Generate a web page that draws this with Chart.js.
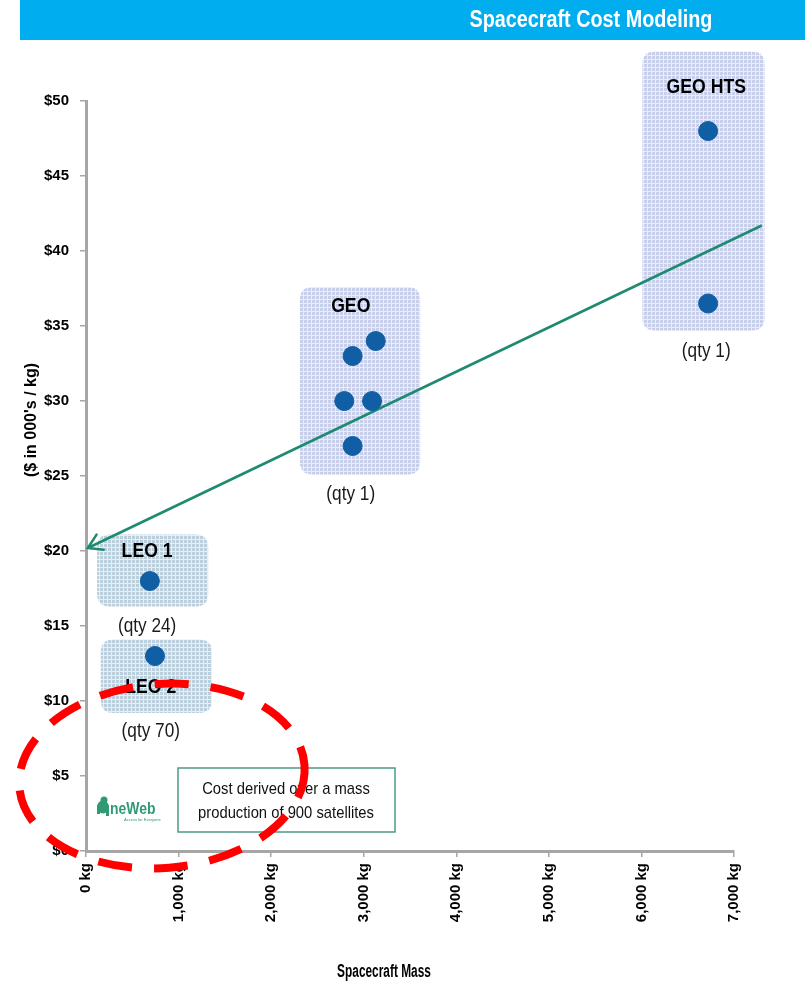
<!DOCTYPE html>
<html>
<head>
<meta charset="utf-8">
<script src="https://cdn.jsdelivr.net/npm/chart.js@4.4.1/dist/chart.umd.min.js"></script>
<style>
  html, body { margin: 0; padding: 0; background: #fff; }
  #wrap { width: 805px; height: 983px; position: relative; }
</style>
</head>
<body>
<div id="wrap"><canvas id="c" width="805" height="983"></canvas></div>
<script>
// Spacecraft cost per kg versus spacecraft mass
const satMass = [6720, 6720, 2880, 3130, 2790, 3090, 2880, 690, 745];
const satCost = [48, 36.5, 33, 34, 30, 30, 27, 18, 13];

// Trend line (arrow points toward the low-mass end)
const trendMass = [20, 7300];
const trendCost = [20.2, 41.7];

// Satellite classes and the shaded regions around them (data units)
const groupNames = ['GEO HTS', 'GEO', 'LEO 1', 'LEO 2'];
const groupQty = ['(qty 1)', '(qty 1)', '(qty 24)', '(qty 70)'];
const groupMassLo = [6010, 2310, 120, 160];
const groupMassHi = [7330, 3610, 1320, 1360];
const groupCostLo = [34.7, 25.1, 16.3, 9.2];
const groupCostHi = [53.3, 37.6, 21.1, 14.1];
const groupNameCost = [50.9, 36.3, 20.0, 10.9];
const groupQtyCost = [33.3, 23.8, 15.0, 8.0];
const groupCenterMass = [6700, 2860, 660, 700];

// Axis ticks
const yTicks = [0, 5, 10, 15, 20, 25, 30, 35, 40, 45, 50];
const xTicks = [0, 1000, 2000, 3000, 4000, 5000, 6000, 7000];

const SANS = '"Liberation Sans", Arial, sans-serif';

function gridPattern(ctx, base, line) {
  const c = document.createElement('canvas');
  c.width = 4; c.height = 4;
  const g = c.getContext('2d');
  g.fillStyle = base; g.fillRect(0, 0, 4, 4);
  g.fillStyle = line; g.fillRect(0, 3, 4, 1); g.fillRect(3, 0, 1, 4);
  return ctx.createPattern(c, 'repeat');
}

function roundRect(ctx, x, y, w, h, r) {
  ctx.beginPath();
  ctx.moveTo(x + r, y);
  ctx.lineTo(x + w - r, y);
  ctx.quadraticCurveTo(x + w, y, x + w, y + r);
  ctx.lineTo(x + w, y + h - r);
  ctx.quadraticCurveTo(x + w, y + h, x + w - r, y + h);
  ctx.lineTo(x + r, y + h);
  ctx.quadraticCurveTo(x, y + h, x, y + h - r);
  ctx.lineTo(x, y + r);
  ctx.quadraticCurveTo(x, y, x + r, y);
  ctx.closePath();
}

// narrow lettering: draw the text squeezed horizontally around its anchor
function narrowText(ctx, text, x, y, font, sx, align) {
  ctx.save();
  ctx.translate(x, y);
  ctx.scale(sx, 1);
  ctx.font = font;
  ctx.textAlign = align || 'center';
  ctx.textBaseline = 'middle';
  ctx.fillText(text, 0, 0);
  ctx.restore();
}

const decor = {
  id: 'decor',
  beforeDraw(chart) {
    const ctx = chart.ctx;
    const xs = chart.scales.x, ys = chart.scales.y;
    ctx.save();
    ctx.fillStyle = '#ffffff';
    ctx.fillRect(0, 0, chart.width, chart.height);

    // header band
    ctx.fillStyle = '#00aeef';
    ctx.fillRect(20, 0, 785, 40);
    ctx.fillStyle = '#ffffff';
    narrowText(ctx, 'Spacecraft Cost Modeling', 591, 21, 'bold 23px ' + SANS, 0.86);

    // shaded class regions
    const geoFill = gridPattern(ctx, '#c7cfeb', '#e9edf9');
    const leoFill = gridPattern(ctx, '#bccfdd', '#e8eff4');
    for (let i = 0; i < groupNames.length; i++) {
      const x1 = xs.getPixelForValue(groupMassLo[i]);
      const x2 = xs.getPixelForValue(groupMassHi[i]);
      const y1 = ys.getPixelForValue(groupCostHi[i]);
      const y2 = ys.getPixelForValue(groupCostLo[i]);
      ctx.fillStyle = i < 2 ? geoFill : leoFill;
      roundRect(ctx, x1, y1, x2 - x1, y2 - y1, 13);
      ctx.fill();
    }
    ctx.restore();
  },
  afterDatasetsDraw(chart) {
    const ctx = chart.ctx;
    const xs = chart.scales.x, ys = chart.scales.y;
    ctx.save();

    // class names and quantities
    for (let i = 0; i < groupNames.length; i++) {
      const cx = xs.getPixelForValue(groupCenterMass[i]);
      ctx.fillStyle = '#000';
      narrowText(ctx, groupNames[i], cx, ys.getPixelForValue(groupNameCost[i]), 'bold 21px ' + SANS, 0.84);
      ctx.fillStyle = '#1a1a1a';
      narrowText(ctx, groupQty[i], cx, ys.getPixelForValue(groupQtyCost[i]), '21px ' + SANS, 0.82);
    }

    // arrow head at the low-mass end of the trend line
    const tx = xs.getPixelForValue(trendMass[0]), ty = ys.getPixelForValue(trendCost[0]);
    const ox = xs.getPixelForValue(trendMass[1]), oy = ys.getPixelForValue(trendCost[1]);
    const ang = Math.atan2(oy - ty, ox - tx);
    ctx.strokeStyle = '#1f8a70';
    ctx.lineWidth = 2.5;
    ctx.lineCap = 'round';
    ctx.beginPath();
    ctx.moveTo(tx + 16 * Math.cos(ang - 0.55), ty + 16 * Math.sin(ang - 0.55));
    ctx.lineTo(tx, ty);
    ctx.lineTo(tx + 16 * Math.cos(ang + 0.55), ty + 16 * Math.sin(ang + 0.55));
    ctx.stroke();

    // note box
    ctx.strokeStyle = '#4c9a88';
    ctx.lineWidth = 1.5;
    ctx.strokeRect(178, 768, 217, 64);
    ctx.fillStyle = '#111';
    narrowText(ctx, 'Cost derived over a mass', 286, 789, '17px ' + SANS, 0.87);
    narrowText(ctx, 'production of 900 satellites', 286, 813, '17px ' + SANS, 0.87);

    // OneWeb mark
    ctx.fillStyle = '#2f9a73';
    ctx.beginPath();
    ctx.ellipse(103, 807, 6, 6.5, 0, 0, Math.PI * 2);
    ctx.fill();
    ctx.fillRect(97, 806, 3, 8);
    ctx.fillRect(106, 806, 3, 10);
    ctx.beginPath();
    ctx.arc(104, 800, 3.5, 0, Math.PI * 2);
    ctx.fill();
    narrowText(ctx, 'neWeb', 110, 809, 'bold 17px ' + SANS, 0.82, 'left');
    narrowText(ctx, 'Access for Everyone', 124, 820, '4px ' + SANS, 1, 'left');

    // axis titles
    ctx.fillStyle = '#000';
    narrowText(ctx, 'Spacecraft Mass', 384, 972, 'bold 18px ' + SANS, 0.66);
    ctx.save();
    ctx.translate(32, 420);
    ctx.rotate(-Math.PI / 2);
    ctx.font = 'bold 16px ' + SANS;
    ctx.textAlign = 'center';
    ctx.textBaseline = 'middle';
    ctx.fillText("($ in 000's / kg)", 0, 0);
    ctx.restore();

    // red dashed highlight
    ctx.strokeStyle = '#ff0000';
    ctx.lineWidth = 8;
    ctx.setLineDash([34, 22]);
    ctx.lineCap = 'butt';
    ctx.beginPath();
    ctx.ellipse(xs.getPixelForValue(820), ys.getPixelForValue(5), 143, 92, -0.08, 0, Math.PI * 2);
    ctx.stroke();
    ctx.restore();
  }
};

const ctx = document.getElementById('c').getContext('2d');
new Chart(ctx, {
  data: {
    datasets: [
      {
        type: 'scatter',
        label: 'Spacecraft',
        data: satMass.map((m, i) => ({ x: m, y: satCost[i] })),
        backgroundColor: '#105ea4',
        borderColor: '#105ea4',
        pointRadius: 9.5,
        pointHoverRadius: 9.5,
        order: 1
      },
      {
        type: 'line',
        label: 'Trend',
        data: trendMass.map((m, i) => ({ x: m, y: trendCost[i] })),
        borderColor: '#1f8a70',
        borderWidth: 2.5,
        pointRadius: 0,
        fill: false,
        clip: false,
        order: 2
      }
    ]
  },
  options: {
    responsive: false,
    animation: false,
    events: [],
    layout: { padding: { top: 101, right: 71, left: 0, bottom: 0 } },
    plugins: { legend: { display: false }, tooltip: { enabled: false } },
    scales: {
      x: {
        type: 'linear',
        min: 0, max: 7000,
        afterFit(s) { s.height = 132; },
        afterBuildTicks(s) { s.ticks = xTicks.map(v => ({ value: v })); },
        grid: { drawOnChartArea: false, drawTicks: true, tickLength: 6, color: '#a6a6a6', lineWidth: 1.5 },
        border: { display: true, color: '#a6a6a6', width: 3 },
        ticks: {
          minRotation: 90, maxRotation: 90,
          padding: 6,
          color: '#000',
          font: { family: SANS, size: 15, weight: 'bold' },
          callback: v => v.toLocaleString('en-US') + ' kg'
        }
      },
      y: {
        type: 'linear',
        min: 0, max: 50,
        afterFit(s) { s.width = 86; },
        afterBuildTicks(s) { s.ticks = yTicks.map(v => ({ value: v })); },
        grid: { drawOnChartArea: false, drawTicks: true, tickLength: 6, color: '#a6a6a6', lineWidth: 1.5 },
        border: { display: true, color: '#a6a6a6', width: 3 },
        ticks: {
          padding: 11,
          color: '#000',
          font: { family: SANS, size: 15, weight: 'bold' },
          callback: v => '$' + v
        }
      }
    }
  },
  plugins: [decor]
});
</script>
</body>
</html>
